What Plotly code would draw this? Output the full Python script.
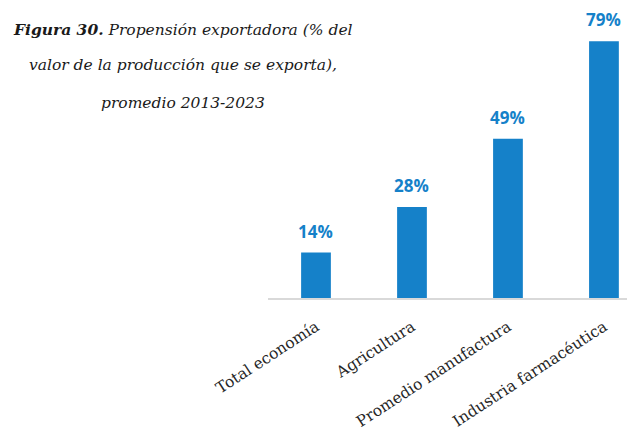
import plotly.graph_objects as go

categories = ["Total economía", "Agricultura", "Promedio manufactura", "Industria farmacéutica"]
values = [14, 28, 49, 79]
labels = ["14%", "28%", "49%", "79%"]
title_lines = [
    "<b>Figura 30.</b> Propensión exportadora (% del",
    "valor de la producción que se exporta),",
    "promedio 2013-2023",
]

BLUE = "#1581C9"

fig = go.Figure()
fig.add_trace(go.Bar(
    x=categories, y=values, marker=dict(color=BLUE, line=dict(width=0)),
    width=0.31, hoverinfo="skip",
))

for c, v, t in zip(categories, values, labels):
    fig.add_annotation(x=c, y=v, text=f"<b>{t}</b>", showarrow=False,
                       yanchor="bottom", yshift=8,
                       font=dict(family="Open Sans", size=17, color=BLUE))

title_y = [30, 65, 103]
for line, yy in zip(title_lines, title_y):
    fig.add_annotation(xref="paper", yref="paper", x=(183 - 268) / 359, y=1 - yy / 298,
                       text=f"<i>{line}</i>", showarrow=False,
                       xanchor="center", yanchor="middle",
                       font=dict(family="DejaVu Serif", size=15.5, color="#1a1a1a"))

fig.update_layout(
    width=627, height=436,
    margin=dict(l=268, r=0, t=0, b=138),
    plot_bgcolor="white", paper_bgcolor="white",
    showlegend=False,
    xaxis=dict(range=[-0.5, 3.24], showgrid=False, showline=True, linecolor="#D9D9D9",
               linewidth=1.5, ticks="", tickangle=-33, ticklabelstandoff=12,
               tickfont=dict(family="DejaVu Serif", size=15.5, color="#262626")),
    yaxis=dict(range=[0, 91.7], visible=False, showgrid=False),
)
fig.update_annotations(clicktoshow=False)
fig.write_html("out.html")
